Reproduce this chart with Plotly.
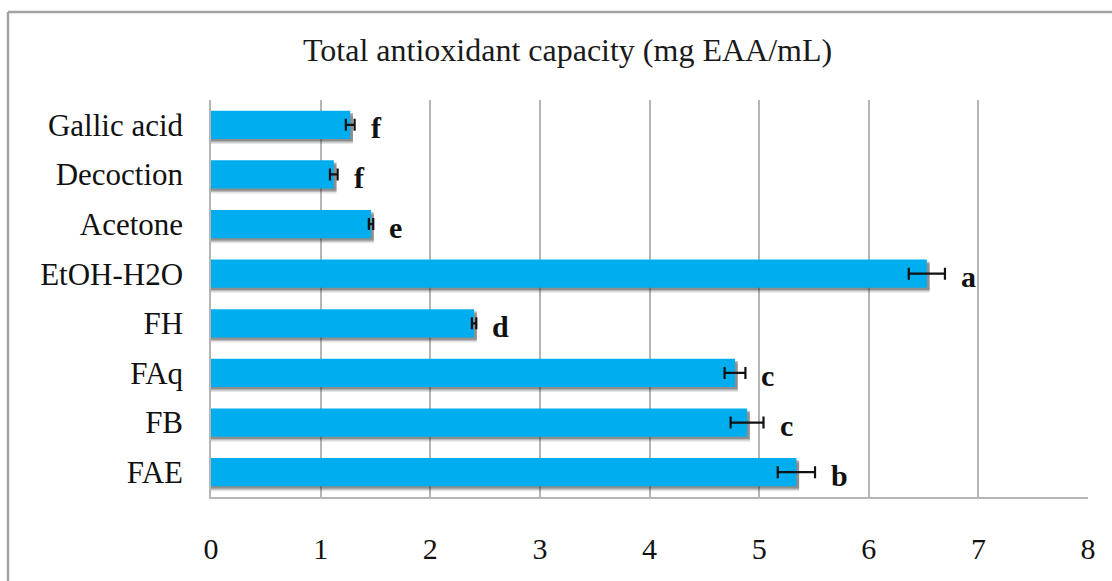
import plotly.graph_objects as go

# Extracts, listed top to bottom as they appear on the chart
categories = ["Gallic acid", "Decoction", "Acetone", "EtOH-H2O", "FH", "FAq", "FB", "FAE"]
capacity = [1.27, 1.12, 1.46, 6.53, 2.40, 4.78, 4.89, 5.34]
capacity_sd = [0.04, 0.035, 0.02, 0.165, 0.02, 0.095, 0.15, 0.17]
letters = ["f", "f", "e", "a", "d", "c", "c", "b"]
x_ticks = [0, 1, 2, 3, 4, 5, 6, 7, 8]

# bottom-to-top order for the categorical y axis
cats = categories[::-1]
vals = capacity[::-1]
sds = capacity_sd[::-1]
lets = letters[::-1]

W, H = 1112, 581
ML, MR, MT, MB = 211, 24, 100, 84
PW, PH = W - ML - MR, H - MT - MB

FONT = "Liberation Serif, Times New Roman, serif"
BAR_W = 0.57

fig = go.Figure()

# soft drop shadow beneath each bar
for shift, alpha in [(0.10, 0.12), (0.07, 0.22), (0.045, 0.30)]:
    fig.add_trace(go.Bar(
        y=cats, x=[v + 0.025 for v in vals], orientation="h",
        width=BAR_W, offset=-BAR_W / 2 - shift,
        marker=dict(color=f"rgba(40,40,40,{alpha})", line=dict(width=0)),
        hoverinfo="skip", showlegend=False,
    ))

fig.add_trace(go.Bar(
    y=cats, x=vals, orientation="h",
    width=BAR_W, offset=-BAR_W / 2,
    marker=dict(color="#00aeef", line=dict(width=0)),
    error_x=dict(type="data", array=sds, visible=True,
                 color="#111111", thickness=2.2, width=6),
    showlegend=False,
))

annotations = []
for c, v, s, t in zip(cats, vals, sds, lets):
    annotations.append(dict(
        x=v + s, y=c, xref="x", yref="y", text=f"<b>{t}</b>",
        showarrow=False, xanchor="left", xshift=14, yshift=-3,
        font=dict(family=FONT, size=30, color="#111111"),
    ))

annotations.append(dict(
    x=(567 - ML) / PW, y=(H - MB - 50) / PH, xref="paper", yref="paper",
    text="Total antioxidant capacity (mg EAA/mL)", showarrow=False,
    xanchor="center", yanchor="middle",
    font=dict(family=FONT, size=32, color="#1a1a1a"),
))

def px_x(p):
    return (p - ML) / PW

def px_y(p):
    return (H - MB - p) / PH

shapes = [
    # outer frame (left and top edges)
    dict(type="line", xref="paper", yref="paper",
         x0=px_x(8), x1=px_x(8), y0=px_y(12), y1=px_y(600),
         line=dict(color="#a3a3a3", width=2.5)),
    dict(type="line", xref="paper", yref="paper",
         x0=px_x(8), x1=px_x(1130), y0=px_y(12), y1=px_y(12),
         line=dict(color="#a3a3a3", width=2.5)),
]

fig.update_layout(
    width=W, height=H,
    margin=dict(l=ML, r=MR, t=MT, b=MB, autoexpand=False),
    paper_bgcolor="white", plot_bgcolor="white",
    barmode="overlay",
    annotations=annotations, shapes=shapes,
    xaxis=dict(
        range=[0, 8], tickvals=x_ticks, ticktext=[str(v) for v in x_ticks],
        showgrid=True, gridcolor="#b5b5b5", gridwidth=1.5,
        showline=True, linecolor="#b5b5b5", linewidth=1.5,
        zeroline=False, automargin=False,
        ticks="outside", ticklen=24, tickcolor="rgba(0,0,0,0)",
        tickfont=dict(family=FONT, size=30, color="#111111"),
        fixedrange=True,
    ),
    yaxis=dict(
        categoryorder="array", categoryarray=cats,
        range=[-0.5, len(cats) - 0.5],
        showgrid=False, showline=True, linecolor="#b5b5b5", linewidth=1.5,
        automargin=False,
        ticks="outside", ticklen=20, tickcolor="rgba(0,0,0,0)",
        tickfont=dict(family=FONT, size=31, color="#111111"),
        fixedrange=True,
    ),
)

fig.write_html("out.html")
